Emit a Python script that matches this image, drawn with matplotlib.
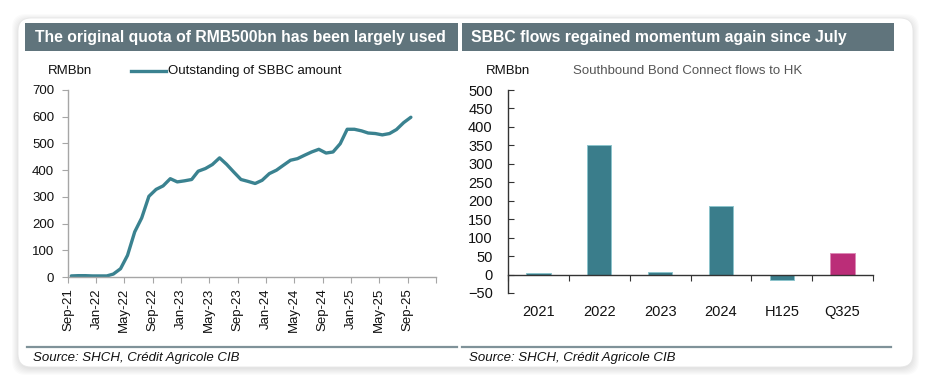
import matplotlib
matplotlib.use("Agg")
import matplotlib.pyplot as plt
from matplotlib.patches import FancyBboxPatch, Rectangle
from matplotlib.lines import Line2D
import pandas as pd
import numpy as np

plt.rcParams['font.family'] = ['Liberation Sans', 'DejaVu Sans']

# ---------------- data ----------------
left_title = "The original quota of RMB500bn has been largely used"
right_title = "SBBC flows regained momentum again since July"
source_text = "Source: SHCH, Crédit Agricole CIB"

sbbc_dates = pd.date_range('2021-09-01', '2025-09-01', freq='MS') + pd.Timedelta(days=14)
sbbc_outstanding = [4, 5, 5, 4, 4, 4, 11, 31, 81, 169, 221, 302, 328, 341, 368, 356,
                    360, 365, 396, 406, 421, 446, 422, 393, 365, 358, 350, 362, 387,
                    400, 418, 437, 443, 456, 468, 478, 464, 468, 499, 553, 553, 547,
                    539, 537, 532, 537, 552, 578, 598]
left_series_label = "Outstanding of SBBC amount"
left_tick_dates = pd.date_range('2021-09-01', '2026-01-01', freq='4MS')
left_tick_labels = [d.strftime('%b-%y') for d in left_tick_dates[:-1]] + ['']
left_yticks = [0, 100, 200, 300, 400, 500, 600, 700]

flow_categories = ['2021', '2022', '2023', '2024', 'H125', 'Q325']
flow_values = [5, 352, 6, 187, -16, 58]
flow_highlight = [False, False, False, False, False, True]
right_yticks = [-50, 0, 50, 100, 150, 200, 250, 300, 350, 400, 450, 500]
right_subtitle = "Southbound Bond Connect flows to HK"

# ---------------- style ----------------
W, H = 931, 384
TEAL = '#3a7d8b'
TEAL_EDGE = '#8cc4cc'
MAGENTA = '#bb2d78'
MAGENTA_EDGE = '#dd8ab6'
LINE_COL = '#3a8290'
HEADER = '#60747c'
SEP = '#7f9299'

fig = plt.figure(figsize=(W / 100, H / 100), dpi=100)

# background overlay in pixel coordinates
bg = fig.add_axes([0, 0, 1, 1], zorder=0)
bg.set_xlim(0, W)
bg.set_ylim(H, 0)
bg.axis('off')

# soft shadow
for i in range(7):
    g = 8 - i
    bg.add_patch(FancyBboxPatch((18 - g + 2, 18 - g + 4), 895 + 2 * g - 4, 349 + 2 * g - 4,
                                boxstyle="round,pad=0,rounding_size=14",
                                facecolor='black', edgecolor='none', alpha=0.017))
bg.add_patch(FancyBboxPatch((18, 18), 895, 349, boxstyle="round,pad=0,rounding_size=13",
                            facecolor='white', edgecolor='#e6e6e6', linewidth=0.6))

# headers
bg.add_patch(Rectangle((25, 23), 433, 28, facecolor=HEADER, edgecolor='none'))
bg.add_patch(Rectangle((462, 23), 432, 28, facecolor=HEADER, edgecolor='none'))
bg.text(35, 37.5, left_title, color='white', fontweight='bold', fontsize=11.3,
        va='center', ha='left')
bg.text(471, 37.5, right_title, color='white', fontweight='bold', fontsize=11.3,
        va='center', ha='left')

# unit labels / legend
bg.text(48, 71, "RMBbn", fontsize=9.5, va='center', ha='left', color='#111')
bg.add_line(Line2D([131, 166], [71, 71], color=LINE_COL, linewidth=2.4))
bg.text(168, 71, left_series_label, fontsize=9.5, va='center', ha='left', color='#111')
bg.text(486, 71, "RMBbn", fontsize=9.5, va='center', ha='left', color='#111')
bg.text(573, 71, right_subtitle, fontsize=9.5, va='center', ha='left', color='#555')

# separators and sources
bg.add_line(Line2D([27, 457], [347, 347], color=SEP, linewidth=1.6))
bg.add_line(Line2D([462, 891], [347, 347], color=SEP, linewidth=1.6))
bg.text(33, 358, source_text, fontsize=9.5, style='italic', va='center', ha='left', color='#111')
bg.text(469, 358, source_text, fontsize=9.5, style='italic', va='center', ha='left', color='#111')

# ---------------- left chart ----------------
axL = fig.add_axes([68 / W, 1 - 277 / H, (436 - 68) / W, (277 - 90) / H], zorder=1)
axL.set_facecolor('none')
axL.plot(sbbc_dates, sbbc_outstanding, color=LINE_COL, linewidth=2.4,
         solid_joinstyle='round', solid_capstyle='round', clip_on=False)
axL.set_xlim(left_tick_dates[0], left_tick_dates[-1])
axL.set_ylim(0, 700)
axL.set_yticks(left_yticks)
axL.set_xticks(left_tick_dates)
axL.set_xticklabels(left_tick_labels, rotation=90)
for s in ['top', 'right']:
    axL.spines[s].set_visible(False)
for s in ['left', 'bottom']:
    axL.spines[s].set_color('#a6a6a6')
    axL.spines[s].set_linewidth(1.0)
axL.tick_params(axis='y', direction='out', length=4, color='#a6a6a6', labelsize=9.5,
                pad=6, labelcolor='#111')
axL.tick_params(axis='x', direction='out', length=4, color='#a6a6a6', labelsize=9.5,
                pad=4, labelcolor='#111')

# ---------------- right chart ----------------
axR = fig.add_axes([508 / W, 1 - 293 / H, (873 - 508) / W, (293 - 90) / H], zorder=1)
axR.set_facecolor('none')
xpos = np.arange(len(flow_categories))
colors = [MAGENTA if h else TEAL for h in flow_highlight]
edges = [MAGENTA_EDGE if h else TEAL_EDGE for h in flow_highlight]
axR.bar(xpos, flow_values, width=0.4, color=colors, edgecolor=edges, linewidth=0.7, zorder=2)
axR.set_xlim(-0.5, len(flow_categories) - 0.5)
axR.set_ylim(-50, 500)
axR.set_yticks(right_yticks)
axR.spines['top'].set_visible(False)
axR.spines['right'].set_visible(False)
axR.spines['bottom'].set_position(('data', 0))
axR.spines['bottom'].set_zorder(3)
for s in ['left', 'bottom']:
    axR.spines[s].set_color('#333333')
    axR.spines[s].set_linewidth(1.0)
axR.set_xticks(np.arange(-0.5, len(flow_categories)))
axR.set_xticklabels([''] * (len(flow_categories) + 1))
axR.set_xticks(xpos, minor=True)
axR.set_xticklabels(flow_categories, minor=True)
axR.tick_params(axis='x', which='major', direction='out', length=4, color='#333')
axR.tick_params(axis='x', which='minor', length=0, pad=22, labelsize=10.5, labelcolor='#111')
axR.tick_params(axis='y', direction='in', length=4, color='#333', labelsize=10.5,
                pad=11, labelcolor='#111')

fig.savefig('out.png', dpi=100)
